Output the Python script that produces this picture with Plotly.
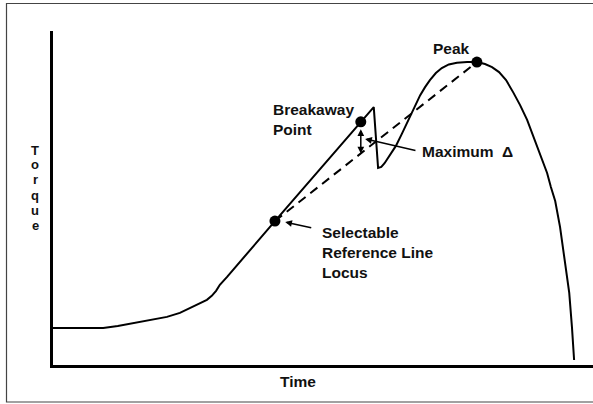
import plotly.graph_objects as go

# Torque vs. time trace (arbitrary units)
time = [0.0, 9.3, 12.0, 14.8, 18.0, 21.1, 23.5, 25.4, 27.2, 28.5, 29.4, 30.2,
        30.9, 32.2, 41.1, 57.0, 59.4, 60.2, 60.8, 61.4, 62.4, 63.5, 64.6, 65.7,
        66.9, 68.0, 68.9, 69.8, 70.9, 72.0, 73.3, 74.8, 76.7, 78.5, 80.0, 81.3,
        82.6, 83.9, 85.2, 86.5, 87.8, 88.7, 89.6, 90.6, 91.5, 92.2, 93.0, 93.9,
        94.8, 95.6, 96.1, 96.5]
torque = [11.1, 11.1, 11.7, 12.6, 13.5, 14.4, 15.6, 17.1, 18.3, 19.5, 20.7, 22.2,
          24.0, 26.3, 43.1, 72.8, 77.2, 59.0, 59.3, 60.4, 62.9, 65.6, 69.2, 73.1,
          76.9, 80.8, 83.2, 85.3, 87.4, 88.9, 90.0, 90.5, 90.7, 90.7, 90.1, 89.2,
          87.7, 85.3, 81.7, 77.8, 73.4, 69.5, 65.3, 61.4, 57.5, 53.3, 49.1, 41.3,
          31.4, 21.6, 11.4, 1.5]

# Key points: selectable reference locus, breakaway point, peak
key_names = ["Selectable Reference Line Locus", "Breakaway Point", "Peak"]
key_time = [41.1, 57.0, 78.5]
key_torque = [43.1, 72.8, 90.7]

# Torque on the reference line directly below the breakaway point
ref_at_breakaway = 63.3

axis_letters = list("Torque")

fig = go.Figure()

fig.add_trace(go.Scatter(
    x=time, y=torque, mode="lines",
    line=dict(color="black", width=2), hoverinfo="skip"))

# Reference line from the selectable locus to the peak
fig.add_trace(go.Scatter(
    x=[key_time[0], key_time[2]], y=[key_torque[0], key_torque[2]],
    mode="lines", line=dict(color="black", width=2, dash="9px,6px"),
    hoverinfo="skip"))

fig.add_trace(go.Scatter(
    x=key_time, y=key_torque, mode="markers", text=key_names,
    marker=dict(color="black", size=11)))

lbl = dict(family="Liberation Sans, Arial, sans-serif", size=15.5,
           color="#111111", weight="bold")

annotations = [
    # Maximum delta: double-headed vertical arrow
    dict(x=key_time[1], y=ref_at_breakaway, ax=key_time[1], ay=71.0,
         xref="x", yref="y", axref="x", ayref="y", text="",
         showarrow=True, arrowhead=2, startarrowhead=2, arrowside="end+start",
         arrowsize=0.9, arrowwidth=1.5, arrowcolor="black"),
    # Leader from "Maximum Δ"
    dict(x=57.8, y=67.7, ax=67.4, ay=64.1, xref="x", yref="y",
         axref="x", ayref="y", text="", showarrow=True, arrowhead=2,
         arrowsize=0.9, arrowwidth=1.5, arrowcolor="black"),
    # Leader from the reference-locus label
    dict(x=43.0, y=42.8, ax=48.1, ay=41.0, xref="x", yref="y",
         axref="x", ayref="y", text="", showarrow=True, arrowhead=2,
         arrowsize=0.9, arrowwidth=1.5, arrowcolor="black"),
    dict(x=73.8, y=94.9, xref="x", yref="y", text="Peak", showarrow=False,
         xanchor="center", yanchor="middle", font=lbl),
    dict(x=40.3, y=73.4, xref="x", yref="y", text="Breakaway<br>Point",
         showarrow=False, xanchor="left", yanchor="middle", align="left",
         font=lbl),
    dict(x=68.0, y=63.8, xref="x", yref="y", text="Maximum  Δ",
         showarrow=False, xanchor="left", yanchor="middle", font=lbl),
    dict(x=49.5, y=33.8, xref="x", yref="y",
         text="Selectable<br>Reference Line<br>Locus", showarrow=False,
         xanchor="left", yanchor="middle", align="left", font=lbl),
    dict(x=298 / 593, y=1 - 381 / 404, xref="paper", yref="paper",
         text="Time", showarrow=False, xanchor="center", yanchor="middle",
         font=lbl),
]

# Stacked vertical axis title, one upright letter per line
for i, ch in enumerate(axis_letters):
    annotations.append(dict(
        x=35 / 593, y=1 - (150 + i * 15.0) / 404, xref="paper", yref="paper",
        text=ch, showarrow=False, xanchor="center", yanchor="middle",
        borderpad=0,
        font=dict(family="Liberation Sans, Arial, sans-serif", size=13,
                  color="#111111", weight="bold")))

# Outer frame: left, top and bottom edges (open on the right)
fx0, fx1 = 6.5 / 593, 1.02
fy0, fy1 = 1 - 402 / 404, 1 - 3.5 / 404
frame_path = f"M {fx1},{fy1} L {fx0},{fy1} L {fx0},{fy0} L {fx1},{fy0}"

fig.update_layout(
    width=593, height=404,
    margin=dict(l=0, r=0, t=0, b=0),
    paper_bgcolor="white", plot_bgcolor="white",
    showlegend=False,
    annotations=annotations,
    shapes=[dict(type="path", xref="paper", yref="paper", path=frame_path,
                 line=dict(color="#444444", width=1.2))],
)

fig.update_xaxes(range=[0, 100], domain=[53 / 593, 1], showline=True,
                 linecolor="black", linewidth=3, showgrid=False,
                 zeroline=False, showticklabels=False, ticks="")
fig.update_yaxes(range=[0, 100], domain=[1 - 365 / 404, 1 - 31 / 404],
                 showline=True, linecolor="black", linewidth=3,
                 showgrid=False, zeroline=False, showticklabels=False,
                 ticks="")

fig.write_html("out.html")
